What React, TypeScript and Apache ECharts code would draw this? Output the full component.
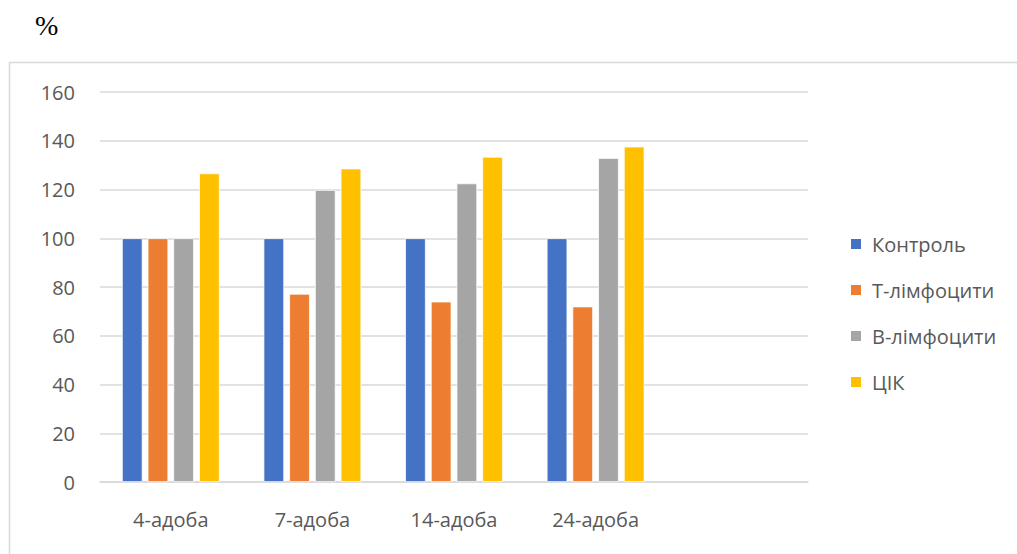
import React, { useEffect, useRef } from "react";
import * as echarts from "echarts";

const categories = ["4-адоба", "7-адоба", "14-адоба", "24-адоба", ""];
const seriesNames = ["Контроль", "Т-лімфоцити", "В-лімфоцити", "ЦІК"];
const control = [100, 100, 100, 100];
const tCells = [100, 77.2, 74, 72];
const bCells = [100, 119.8, 122.5, 132.9];
const cic = [126.6, 128.6, 133.4, 137.6];
const colors = ["#4472C4", "#ED7D31", "#A5A5A5", "#FFC000"];

export default function App() {
  const ref = useRef<HTMLDivElement>(null);
  useEffect(() => {
    if (!ref.current) return;
    const chart = echarts.init(ref.current, undefined, { renderer: "svg" });
    const data = [control, tCells, bCells, cic];
    chart.setOption({
      animation: false,
      backgroundColor: "#ffffff",
      graphic: [
        {
          type: "rect",
          shape: { x: 9.5, y: 62.5, width: 1020, height: 500 },
          style: { fill: "none", stroke: "#d9d9d9", lineWidth: 1.5 },
          silent: true,
        },
        {
          type: "text",
          x: 35,
          y: 11,
          style: { text: "%", fontSize: 28, fontFamily: "Liberation Serif", fill: "#000" },
        },
      ],
      grid: { left: 100, right: 209, top: 92, bottom: 72, containLabel: false },
      legend: {
        orient: "vertical",
        left: 844,
        top: 229,
        itemWidth: 12,
        itemHeight: 12,
        itemGap: 26,
        icon: "rect",
        textStyle: {
          fontSize: 20,
          color: "#595959",
          fontFamily: "Open Sans",
          padding: [0, 0, 0, 5],
        },
        data: seriesNames,
      },
      xAxis: {
        type: "category",
        data: categories,
        axisLine: { lineStyle: { color: "#d9d9d9", width: 1.5 } },
        axisTick: { show: false },
        axisLabel: { color: "#595959", fontSize: 20, fontFamily: "Open Sans", margin: 27 },
      },
      yAxis: {
        type: "value",
        min: 0,
        max: 160,
        interval: 20,
        axisLine: { show: false },
        axisTick: { show: false },
        splitLine: { lineStyle: { color: "#d9d9d9", width: 1.5 } },
        axisLabel: { color: "#595959", fontSize: 20, fontFamily: "Open Sans", margin: 25 },
      },
      series: seriesNames.map((name, i) => ({
        name,
        type: "bar",
        data: data[i],
        barGap: "25%",
        barCategoryGap: "31%",
        itemStyle: { color: colors[i], borderColor: "#ffffff", borderWidth: 0.75 },
      })),
    });
    return () => chart.dispose();
  }, []);
  return (
    <div
      ref={ref}
      style={{ position: "fixed", left: 0, top: 0, width: 1017, height: 554 }}
    />
  );
}
